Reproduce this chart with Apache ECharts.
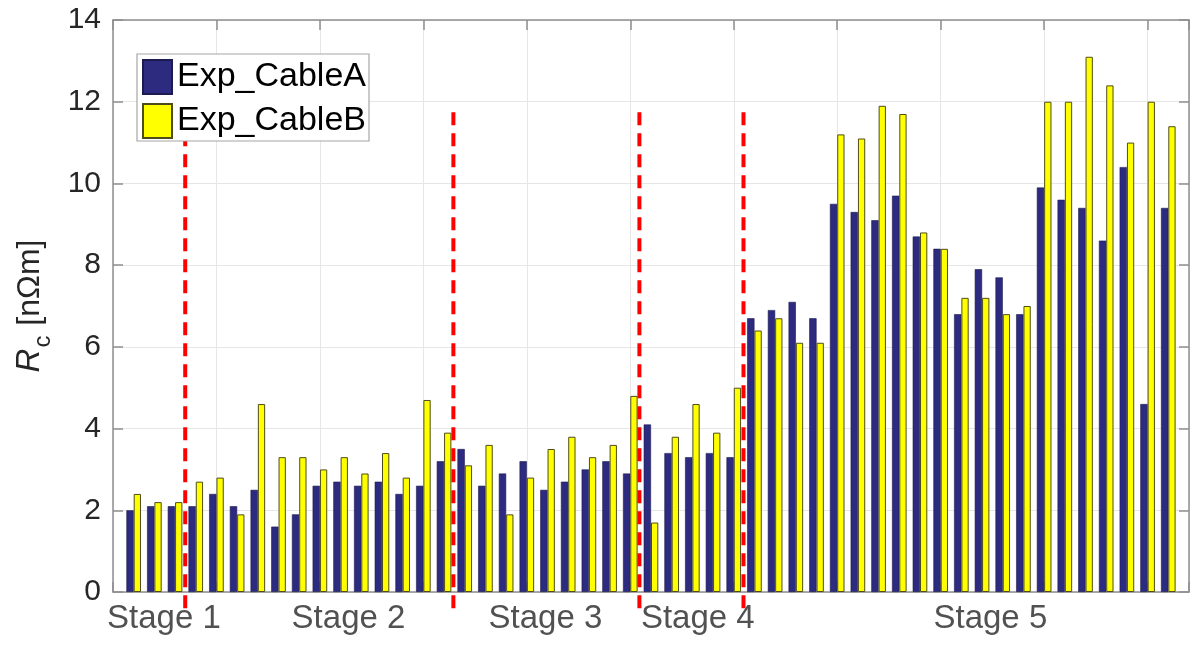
<!DOCTYPE html>
<html>
<head>
<meta charset="utf-8">
<script src="https://cdn.jsdelivr.net/npm/echarts@6/dist/echarts.min.js"></script>
<style>
  html, body { margin: 0; padding: 0; background: #ffffff; }
  #chart { width: 1192px; height: 645px; }
</style>
</head>
<body>
<div id="chart"></div>
<script>
// Contact resistance per sample, two cables
const cableA = [2.0, 2.1, 2.1, 2.1, 2.4, 2.1, 2.5, 1.6, 1.9, 2.6,
                2.7, 2.6, 2.7, 2.4, 2.6, 3.2, 3.5, 2.6, 2.9, 3.2,
                2.5, 2.7, 3.0, 3.2, 2.9, 4.1, 3.4, 3.3, 3.4, 3.3,
                6.7, 6.9, 7.1, 6.7, 9.5, 9.3, 9.1, 9.7, 8.7, 8.4,
                6.8, 7.9, 7.7, 6.8, 9.9, 9.6, 9.4, 8.6, 10.4, 4.6, 9.4];
const cableB = [2.4, 2.2, 2.2, 2.7, 2.8, 1.9, 4.6, 3.3, 3.3, 3.0,
                3.3, 2.9, 3.4, 2.8, 4.7, 3.9, 3.1, 3.6, 1.9, 2.8,
                3.5, 3.8, 3.3, 3.6, 4.8, 1.7, 3.8, 4.6, 3.9, 5.0,
                6.4, 6.7, 6.1, 6.1, 11.2, 11.1, 11.9, 11.7, 8.8, 8.4,
                7.2, 7.2, 6.8, 7.0, 12.0, 12.0, 13.1, 12.4, 11.0, 12.0, 11.4];
const seriesNames = ['Exp_CableA', 'Exp_CableB'];

// Stage separators and stage captions (x in sample units)
const stageBreaks = [3.49, 16.45, 25.44, 30.47];
const stageNames = ['Stage 1', 'Stage 2', 'Stage 3', 'Stage 4', 'Stage 5'];
const stageCenters = [2.46, 11.38, 20.9, 28.26, 42.4];

const yTicks = { min: 0, max: 14, interval: 2 };
const xRange = { min: 0, max: 52, interval: 5 };

const FONT = "'Liberation Sans', Arial, sans-serif";
const TEXT = '#262626';
const FRAME = '#8f8f8f';
const GRID = '#e6e6e6';

const toPoints = vals => vals.map((v, i) => [i + 1, v]);

const chart = echarts.init(document.getElementById('chart'), null, { renderer: 'canvas' });

const breakSeries = stageBreaks.map(x => ({
  type: 'line',
  data: [[x, -0.4], [x, 11.9]],
  clip: false,
  symbol: 'none',
  silent: true,
  z: 5,
  lineStyle: { color: '#ff0000', width: 4, type: [13, 8] }
}));

const axisCommonX = {
  type: 'value',
  min: xRange.min, max: xRange.max, interval: xRange.interval,
  axisLabel: { show: false },
  axisTick: { show: true, inside: true, length: 10, lineStyle: { color: FRAME, width: 1.5 } },
  axisLine: { show: true, onZero: false, lineStyle: { color: FRAME, width: 1.5 } }
};
const axisCommonY = {
  type: 'value',
  min: yTicks.min, max: yTicks.max, interval: yTicks.interval,
  axisTick: { show: true, inside: true, length: 10, lineStyle: { color: FRAME, width: 1.5 } },
  axisLine: { show: true, onZero: false, lineStyle: { color: FRAME, width: 1.5 } }
};

chart.setOption({
  animation: false,
  backgroundColor: '#ffffff',
  grid: { left: 113, right: 3, top: 20, bottom: 53, containLabel: false },
  legend: {
    data: seriesNames,
    orient: 'vertical',
    left: 137, top: 54,
    itemWidth: 29, itemHeight: 34, itemGap: 8,
    padding: [5, 3, 2, 5],
    backgroundColor: '#ffffff',
    borderColor: '#a6a6a6', borderWidth: 1.2,
    icon: 'rect',
    textStyle: { fontFamily: FONT, fontSize: 34, color: '#000000', padding: [0, 0, 0, 0] },
    z: 10
  },
  xAxis: [
    Object.assign({}, axisCommonX, {
      position: 'bottom',
      splitLine: { show: true, lineStyle: { color: GRID, width: 1 } }
    }),
    Object.assign({}, axisCommonX, {
      position: 'top',
      splitLine: { show: false }
    })
  ],
  yAxis: [
    Object.assign({}, axisCommonY, {
      position: 'left',
      name: '{it|R}{sub|c}{txt| [nΩm]}',
      nameLocation: 'middle',
      nameRotate: 90,
      nameGap: 58,
      nameTextStyle: {
        fontFamily: FONT, fontSize: 32, color: TEXT,
        rich: {
          it: { fontFamily: FONT, fontSize: 33, fontStyle: 'italic', color: TEXT },
          sub: { fontFamily: FONT, fontSize: 24, color: TEXT, padding: [26, 1, 0, 1] },
          txt: { fontFamily: FONT, fontSize: 32, color: TEXT }
        }
      },
      axisLabel: { fontFamily: FONT, fontSize: 30, color: TEXT, margin: 12 },
      splitLine: { show: true, lineStyle: { color: GRID, width: 1 } }
    }),
    Object.assign({}, axisCommonY, {
      position: 'right',
      axisLabel: { show: false },
      splitLine: { show: false }
    })
  ],
  series: [
    {
      name: seriesNames[0],
      type: 'bar',
      data: toPoints(cableA),
      barWidth: 7.3,
      barGap: '0%',
      z: 3,
      itemStyle: { color: '#2d2b80', borderColor: '#1c1b4f', borderWidth: 0.6 }
    },
    {
      name: seriesNames[1],
      type: 'bar',
      data: toPoints(cableB),
      barWidth: 7.3,
      barGap: '0%',
      z: 3,
      itemStyle: { color: '#ffff00', borderColor: '#4d4d1a', borderWidth: 1 }
    },
    ...breakSeries,
    {
      type: 'scatter',
      data: stageCenters.map((x, i) => ({ value: [x, -0.65], name: stageNames[i] })),
      clip: false,
      symbolSize: 0,
      silent: true,
      label: {
        show: true,
        position: 'inside',
        formatter: p => p.name,
        fontFamily: FONT, fontSize: 33, color: TEXT
      }
    }
  ]
});
</script>
</body>
</html>
